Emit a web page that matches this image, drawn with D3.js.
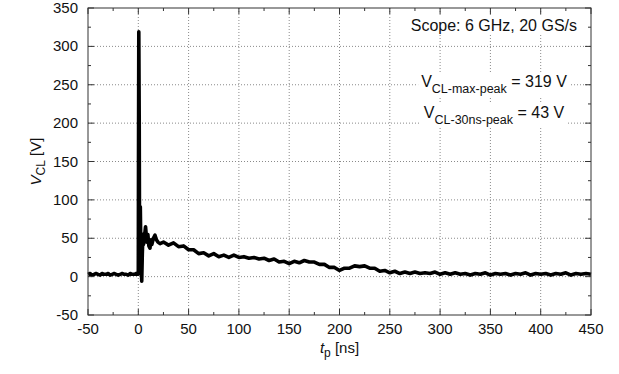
<!DOCTYPE html>
<html lang="en">
<head>
    <meta charset="UTF-8">
    <title>V_CL vs t_p</title>
    <script src="https://d3js.org/d3.v7.min.js"></script>
    <style>
        body { margin: 0; background: #fff; }
        text { font-family: "Liberation Sans", Arial, sans-serif; fill: #111; }
        .grid line { stroke: #8a8a8a; stroke-dasharray: 1,2; stroke-width: 1; }
        .trace { fill: none; stroke: #000; stroke-width: 3.6px; stroke-linejoin: round; }
    </style>
</head>
<body>
<div id="chart"></div>
<script>
    // waveform (time in ns, voltage in V)
    const tNs = [
        -50, -48, -46, -44, -42, -40, -38, -36, -34, -32, -30, -28, -26, -24, -22, -20, -18, -16,
        -14, -12, -10, -8, -6, -4, -2,
        -0.3, 0, 0.2, 0.5, 0.9, 1.2, 1.6, 2.0, 2.4, 2.8, 3.4, 4.0, 4.6, 5.2, 6.0, 7.2, 8.5, 9.5,
        10.5, 11.6, 12.5, 13.5, 15, 16.6, 18, 19.5, 21.6,
        25, 30, 35, 40, 45, 50, 55, 60, 65, 70, 75, 80, 85, 90, 95, 100,
        105, 110, 115, 120, 125, 130, 135, 140, 145, 150, 155, 160, 165, 170, 175, 180, 185, 190, 195, 200,
        205, 210, 215, 220, 225, 230, 235, 240, 245, 250, 255, 260, 265, 270, 275, 280, 285, 290, 295, 300,
        305, 310, 315, 320, 325, 330, 335, 340, 345, 350, 355, 360, 365, 370, 375, 380, 385, 390, 395, 400,
        405, 410, 415, 420, 425, 430, 435, 440, 445, 450];
    const vCL = [
        3, 4, 2, 3, 4, 3, 2, 4, 3, 3, 4, 2, 3, 4, 3, 2, 3, 4,
        3, 3, 2, 4, 3, 3, 4,
        3, 3, 150, 319, 210, 60, 40, 91, 50, 30, -6, 30, 55, 42, 50, 65, 45, 55,
        40, 37, 48, 42, 50, 54, 48, 45, 43,
        45, 41, 44, 39, 40, 35, 35, 30, 31, 27, 30, 26, 28, 25, 28, 25,
        26, 24, 25, 23, 24, 21, 23, 19, 20, 17, 20, 18, 21, 19, 19, 16, 16, 12, 12, 8,
        11, 11, 14, 13, 14, 11, 11, 7, 8, 5, 7, 4, 6, 4, 6, 4, 5, 4, 6, 3,
        5, 3, 5, 3, 4, 2, 4, 3, 5, 2, 4, 3, 4, 2, 4, 3, 5, 2, 4, 3,
        4, 2, 4, 3, 5, 2, 4, 3, 4, 3];
    const xTicks = [-50, 0, 50, 100, 150, 200, 250, 300, 350, 400, 450];
    const yTicks = [-50, 0, 50, 100, 150, 200, 250, 300, 350];

    const width = 619, height = 374;
    const m = { left: 88, right: 28, top: 8, bottom: 59 };
    const pw = width - m.left - m.right, ph = height - m.top - m.bottom;

    const svg = d3.select("#chart").append("svg")
        .attr("width", width)
        .attr("height", height);

    const x = d3.scaleLinear().domain([-50, 450]).range([m.left, m.left + pw]);
    const y = d3.scaleLinear().domain([-50, 350]).range([m.top + ph, m.top]);

    const xMinor = d3.range(-50, 451, 25);
    const yMinor = d3.range(-50, 351, 25);

    // dotted grid
    const grid = svg.append("g").attr("class", "grid");
    grid.selectAll(".gx").data(xTicks.slice(1, -1)).enter().append("line")
        .attr("x1", d => x(d)).attr("x2", d => x(d))
        .attr("y1", m.top).attr("y2", m.top + ph);
    grid.selectAll(".gy").data(yTicks.slice(1, -1)).enter().append("line")
        .attr("x1", m.left).attr("x2", m.left + pw)
        .attr("y1", d => y(d)).attr("y2", d => y(d));

    // annotations with white boxes behind them
    const notes = [
        { x: 577, y: 31, anchor: "end", parts: [["Scope: 6 GHz, 20 GS/s", 0]] },
        { x: 494, y: 87, anchor: "middle", parts: [["V", 0], ["CL-max-peak", 1], [" = 319 V", 0]] },
        { x: 494, y: 118, anchor: "middle", parts: [["V", 0], ["CL-30ns-peak", 1], [" = 43 V", 0]] }
    ];
    notes.forEach(n => {
        const g = svg.append("g");
        const bg = g.append("rect").attr("fill", "#fff");
        const t = g.append("text")
            .attr("x", n.x).attr("y", n.y)
            .attr("text-anchor", n.anchor)
            .style("font-size", "16px");
        n.parts.forEach((p, i) => {
            const s = t.append("tspan").text(p[0]);
            if (p[1]) s.attr("dy", 6).style("font-size", "12.5px");
            else if (i > 0) s.attr("dy", -6);
        });
        const bb = t.node().getBBox();
        bg.attr("x", bb.x - 3).attr("y", bb.y)
            .attr("width", bb.width + 6).attr("height", bb.height);
    });

    // trace
    const line = d3.line()
        .x((d, i) => x(tNs[i]))
        .y(d => y(d));
    svg.append("path")
        .datum(vCL)
        .attr("class", "trace")
        .attr("d", line);

    // frame and mirrored ticks
    svg.append("rect")
        .attr("x", m.left).attr("y", m.top)
        .attr("width", pw).attr("height", ph)
        .attr("fill", "none").attr("stroke", "#333").attr("stroke-width", 1);

    const ticks = svg.append("g").attr("stroke", "#333").attr("stroke-width", 1);
    xMinor.forEach(v => {
        const len = v % 50 === 0 ? 6 : 3;
        ticks.append("line").attr("x1", x(v)).attr("x2", x(v))
            .attr("y1", m.top + ph).attr("y2", m.top + ph - len);
        ticks.append("line").attr("x1", x(v)).attr("x2", x(v))
            .attr("y1", m.top).attr("y2", m.top + len);
    });
    yMinor.forEach(v => {
        const len = v % 50 === 0 ? 6 : 3;
        ticks.append("line").attr("y1", y(v)).attr("y2", y(v))
            .attr("x1", m.left).attr("x2", m.left + len);
        ticks.append("line").attr("y1", y(v)).attr("y2", y(v))
            .attr("x1", m.left + pw).attr("x2", m.left + pw - len);
    });

    // tick labels
    svg.selectAll(".xl").data(xTicks).enter().append("text")
        .attr("x", d => x(d)).attr("y", m.top + ph + 19)
        .attr("text-anchor", "middle")
        .style("font-size", "15px")
        .text(d => d);
    svg.selectAll(".yl").data(yTicks).enter().append("text")
        .attr("x", m.left - 10).attr("y", d => y(d) + 5)
        .attr("text-anchor", "end")
        .style("font-size", "15px")
        .text(d => d);

    // axis titles
    const xt = svg.append("text")
        .attr("x", x(200)).attr("y", 353)
        .attr("text-anchor", "middle")
        .style("font-size", "15px");
    xt.append("tspan").text("t").style("font-style", "italic");
    xt.append("tspan").text("p").attr("dy", 4).style("font-size", "12px");
    xt.append("tspan").text(" [ns]").attr("dy", -4);

    const yt = svg.append("text")
        .attr("transform", `translate(41, ${y(150)}) rotate(-90)`)
        .attr("text-anchor", "middle")
        .style("font-size", "15px");
    yt.append("tspan").text("V").style("font-style", "italic");
    yt.append("tspan").text("CL").attr("dy", 4).style("font-size", "12px");
    yt.append("tspan").text(" [V]").attr("dy", -4);
</script>
</body>
</html>
